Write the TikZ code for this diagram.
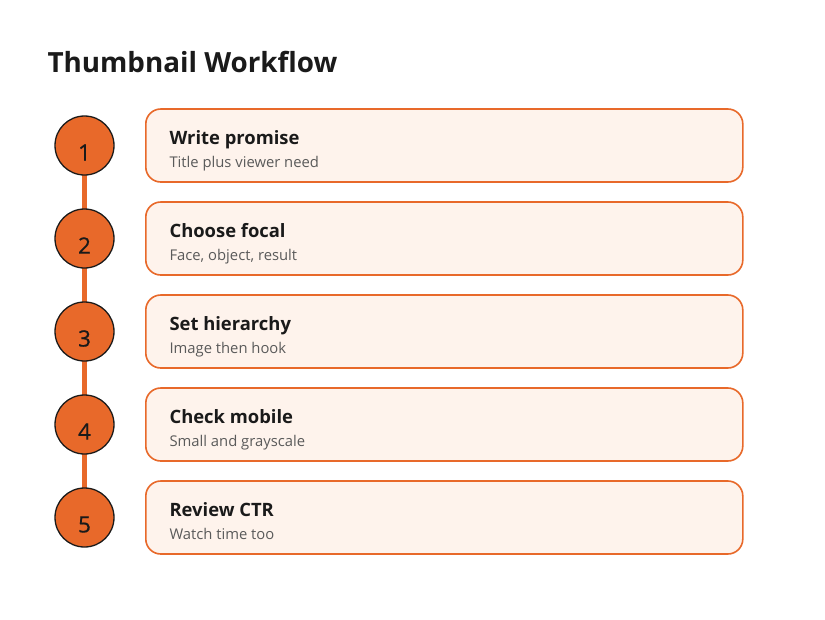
\documentclass[tikz,border=0pt]{standalone}
\usepackage{fontspec}
\setmainfont{Open Sans}
\definecolor{accent}{HTML}{E8692A}
\definecolor{boxfill}{HTML}{FEF3EC}
\definecolor{ink}{HTML}{1A1A1A}
\definecolor{subgray}{HTML}{5A5A5A}
\begin{document}
\begin{tikzpicture}[x=1pt,y=-1pt,
  stepcircle/.style={circle,draw=ink,line width=1.3pt,fill=accent,minimum size=59pt,inner sep=0pt},
  stepbox/.style={rectangle,rounded corners=15pt,draw=accent,line width=1.6pt,fill=boxfill,minimum width=597pt,minimum height=73pt,anchor=west},
  steptitle/.style={anchor=base west,font=\bfseries\fontsize{18.4}{20}\selectfont,text=ink},
  stepsub/.style={anchor=base west,font=\fontsize{14.8}{16}\selectfont,text=subgray},
  stepnum/.style={font=\addfontfeature{FakeBold=0.6}\fontsize{22.5}{24}\selectfont,text=ink},
  link/.style={draw=accent,line width=4.5pt}]
\useasboundingbox (0,0) rectangle (825,619);
\fill[white] (0,0) rectangle (825,619);
\node[anchor=base west,font=\bfseries\fontsize{27.8}{32}\selectfont,text=ink] (title) at (44,72) {Thumbnail Workflow};
\foreach \i/\j in {1/2,2/3,3/4,4/5}{
  \coordinate (p\i) at (84.5,{145.5+93*(\i-1)});
  \coordinate (q\i) at (84.5,{145.5+93*\i});
  \path[link] (p\i) -- (q\i);
}
\foreach \i/\t/\s in {1/Write promise/Title plus viewer need,2/Choose focal/{Face, object, result},3/Set hierarchy/Image then hook,4/Check mobile/Small and grayscale,5/Review CTR/Watch time too}{
  \pgfmathsetmacro{\yy}{145.5+93*(\i-1)}
  \node[stepbox] (b\i) at (145,\yy) {};
  \node[stepcircle] (c\i) at (84.5,\yy) {};
  \node[stepnum] (n\i) at (84.5,\yy+7) {\i};
  \node[steptitle] (t\i) at (166,\yy-1) {\t};
  \node[stepsub] (s\i) at (166,\yy+22) {\s};
}
\end{tikzpicture}
\end{document}
